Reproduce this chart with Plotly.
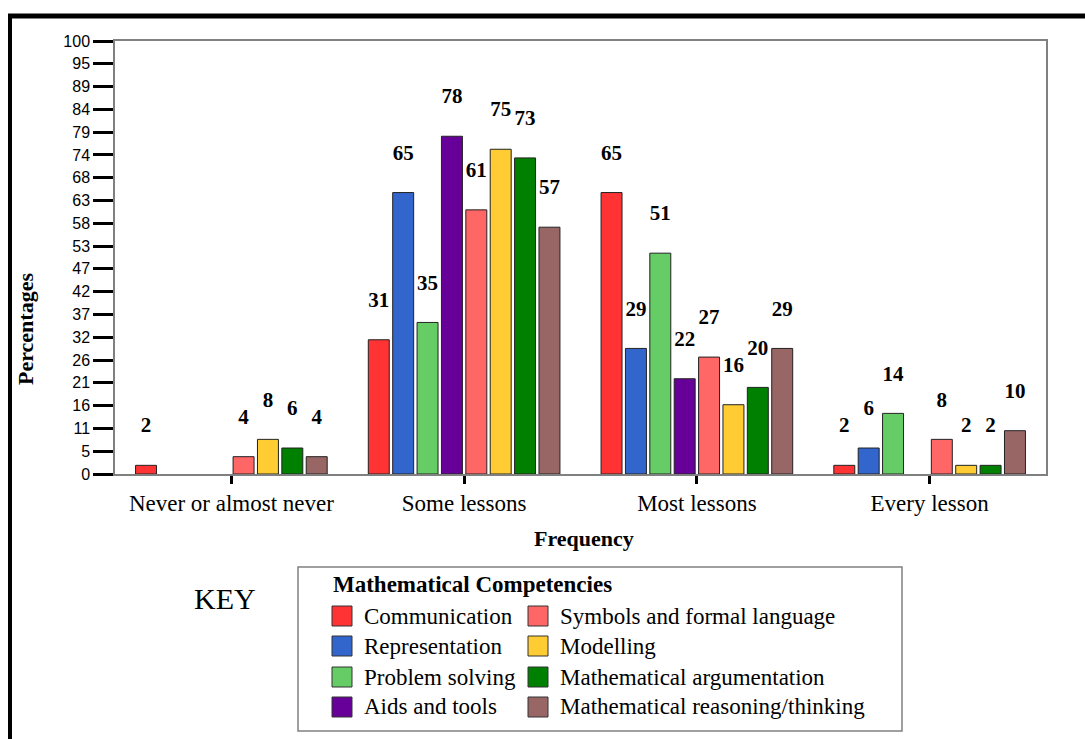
import plotly.graph_objects as go

# Frequency categories on the x axis
categories = ["Never or almost never", "Some lessons", "Most lessons", "Every lesson"]

# Percentage of responses per mathematical competency
communication = [2, 31, 65, 2]
representation = [0, 65, 29, 6]
problem_solving = [0, 35, 51, 14]
aids_and_tools = [0, 78, 22, 0]
symbols_formal = [4, 61, 27, 8]
modelling = [8, 75, 16, 2]
argumentation = [6, 73, 20, 2]
reasoning = [4, 57, 29, 10]

series_names = [
    "Communication", "Representation", "Problem solving", "Aids and tools",
    "Symbols and formal language", "Modelling", "Mathematical argumentation",
    "Mathematical reasoning/thinking",
]
series_values = [
    communication, representation, problem_solving, aids_and_tools,
    symbols_formal, modelling, argumentation, reasoning,
]
series_colors = [
    "#FF3333", "#3366CC", "#66CC66", "#660099",
    "#FF6666", "#FFCC33", "#008000", "#996666",
]

# y-axis: 20 evenly spaced ticks over 0-100, labelled with rounded values
y_tick_labels = ["0", "5", "11", "16", "21", "26", "32", "37", "42", "47",
                 "53", "58", "63", "68", "74", "79", "84", "89", "95", "100"]

SERIF = "Liberation Serif, Times New Roman, serif"
SANS = "Liberation Sans, Arial, sans-serif"

W, H = 1085, 739
L, R, T, B = 115, 39, 41, 265
PW, PH = W - L - R, H - T - B


def px(x):
    return (x - L) / PW


def py(y):
    return (H - B - y) / PH


fig = go.Figure()

# empty categories (0 %) get no bar at all
for name, vals, col in zip(series_names, series_values, series_colors):
    fig.add_trace(go.Bar(
        x=categories, y=[v if v > 0 else None for v in vals], name=name,
        marker=dict(color=col, line=dict(color="#222222", width=1)),
        showlegend=False,
    ))

# value labels sit a fixed distance above each bar
LABEL_LIFT = 8.8
for name, vals in zip(series_names, series_values):
    fig.add_trace(go.Scatter(
        x=categories,
        y=[v + LABEL_LIFT if v > 0 else None for v in vals],
        text=[str(v) if v > 0 else "" for v in vals],
        mode="text", textposition="middle center",
        textfont=dict(family=SERIF, size=21, color="black", weight="bold"),
        showlegend=False, hoverinfo="skip", cliponaxis=False,
    ))

shapes = []
annotations = []

# outer frame (top and left edges)
shapes.append(dict(type="line", xref="paper", yref="paper",
                   x0=px(8), x1=px(1100), y0=py(16), y1=py(16),
                   line=dict(color="black", width=5)))
shapes.append(dict(type="line", xref="paper", yref="paper",
                   x0=px(10), x1=px(10), y0=py(14), y1=py(760),
                   line=dict(color="black", width=4)))

# legend box
shapes.append(dict(type="rect", xref="paper", yref="paper",
                   x0=px(298), x1=px(902), y0=py(567), y1=py(731),
                   line=dict(color="#808080", width=1.5), fillcolor="white"))

annotations.append(dict(text="<b>Mathematical Competencies</b>", xref="paper", yref="paper",
                        x=px(331), y=py(584), xanchor="left", yanchor="middle",
                        showarrow=False, font=dict(family=SERIF, size=23, color="black")))

col_x = [332, 528]
row_y = [616, 646, 677, 707]
legend_order = [0, 4, 1, 5, 2, 6, 3, 7]
for k, idx in enumerate(legend_order):
    cx = col_x[k % 2]
    cy = row_y[k // 2]
    shapes.append(dict(type="rect", xref="paper", yref="paper",
                       x0=px(cx), x1=px(cx + 20), y0=py(cy - 10), y1=py(cy + 10),
                       line=dict(color="#333333", width=1), fillcolor=series_colors[idx]))
    annotations.append(dict(text=series_names[idx], xref="paper", yref="paper",
                            x=px(cx + 30), y=py(cy), xanchor="left", yanchor="middle",
                            showarrow=False, font=dict(family=SERIF, size=23, color="black")))

annotations.append(dict(text="KEY", xref="paper", yref="paper",
                        x=px(225), y=py(598), xanchor="center", yanchor="middle",
                        showarrow=False, font=dict(family=SERIF, size=30, color="black")))

annotations.append(dict(text="<b>Frequency</b>", xref="paper", yref="paper",
                        x=px(584), y=py(538), xanchor="center", yanchor="middle",
                        showarrow=False, font=dict(family=SERIF, size=22, color="black")))

annotations.append(dict(text="<b>Percentages</b>", xref="paper", yref="paper",
                        x=px(25), y=py(329), xanchor="center", yanchor="middle",
                        textangle=-90, showarrow=False,
                        font=dict(family=SERIF, size=22, color="black")))

fig.update_layout(
    width=W, height=H,
    margin=dict(l=L, r=R, t=T, b=B),
    paper_bgcolor="white", plot_bgcolor="white",
    barmode="group", bargap=0.162, bargroupgap=0.14,
    scattermode="group", scattergap=0.162,
    shapes=shapes, annotations=annotations,
    showlegend=False,
)

fig.update_xaxes(
    type="category", showline=True, mirror=True, linecolor="#808080", linewidth=1.5,
    ticks="outside", ticklen=8, tickwidth=3, tickcolor="black",
    tickfont=dict(family=SERIF, size=23, color="black"),
    showgrid=False, zeroline=False,
)
fig.update_yaxes(
    range=[0, 100], showline=True, mirror=True, linecolor="#808080", linewidth=1.5,
    tickvals=[i * 100 / 19 for i in range(len(y_tick_labels))], ticktext=y_tick_labels,
    ticks="outside", ticklen=20, tickwidth=3, tickcolor="black",
    tickfont=dict(family=SANS, size=16, color="black"),
    showgrid=False, zeroline=False,
)

fig.write_html("out.html")
